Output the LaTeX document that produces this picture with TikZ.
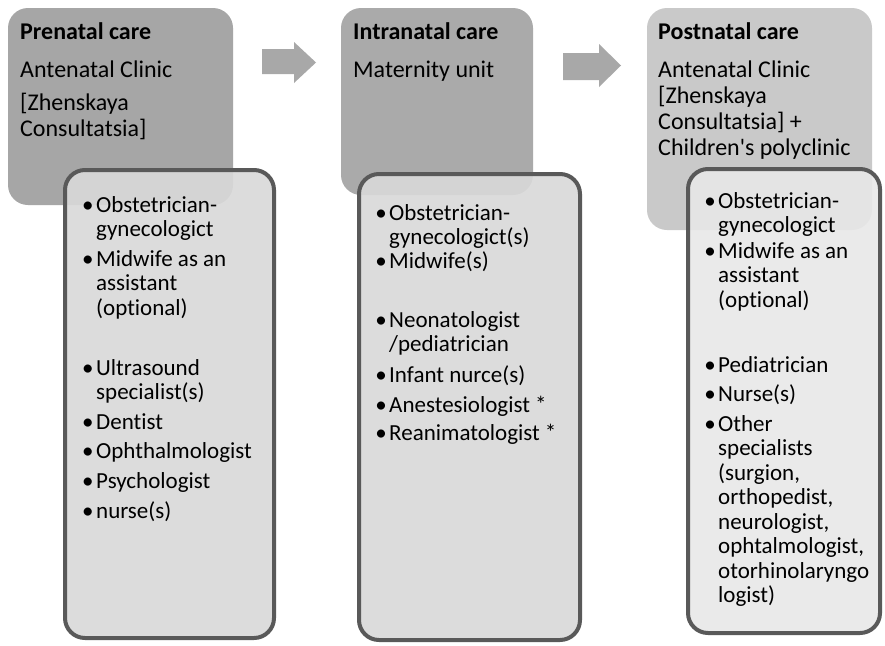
\documentclass[tikz,border=0pt]{standalone}
\usepackage{fontspec}
\setmainfont{Carlito}[Ligatures={TeXOff,CommonOff,ContextualOff}]
% left-aligned stack of lines whose baseline is the first line
\newcommand\linestack[1]{\begin{tabular}[t]{@{}l@{}}#1\end{tabular}}
\newcommand\bul{\llap{•\hspace{2.5pt}}}
\definecolor{stageA}{RGB}{166,166,166}
\definecolor{stageB}{RGB}{170,170,170}
\definecolor{stageC}{RGB}{201,201,201}
\definecolor{staffAB}{RGB}{217,217,217}
\definecolor{staffC}{RGB}{232,232,232}
\definecolor{boxline}{RGB}{89,89,89}
\definecolor{flowgray}{RGB}{168,168,168}
\begin{document}
\begin{tikzpicture}[x=1pt,y=-1pt,
  stage/.style={rounded corners=20pt, inner sep=0pt, outer sep=0pt},
  staff/.style={draw=boxline, line width=4pt, rounded corners=20pt,
    fill opacity=0.9, inner sep=0pt, outer sep=0pt},
  head/.style={anchor=base west, inner sep=0pt, font=\fontsize{24}{26}\selectfont},
  item/.style={anchor=base west, inner sep=0pt, font=\fontsize{23}{24.5}\selectfont},
  flow/.style={fill=flowgray, draw=none}]
\useasboundingbox[fill=white] (0,0) rectangle (885,645);

% stage boxes
\node[stage, fill=stageA, minimum width=225pt, minimum height=197pt] (stA) at (120.5,106.5) {};
\node[stage, fill=stageB, minimum width=192pt, minimum height=187pt] (stB) at (437,101.5) {};
\node[stage, fill=stageC, minimum width=225pt, minimum height=222pt] (stC) at (759.5,119) {};

% block arrows between stages
\fill[flow] (262,49) -- (294,49) -- (294,42) -- (316,62.5) -- (294,83) -- (294,74) -- (262,74) -- cycle;
\fill[flow] (563,53) -- (599,53) -- (599,44) -- (621,65.5) -- (599,87) -- (599,80) -- (563,80) -- cycle;

% staff boxes
\node[staff, fill=staffAB, minimum width=209pt, minimum height=468pt] (sfA) at (169.5,404) {};
\node[staff, fill=staffAB, minimum width=221pt, minimum height=466pt] (sfB) at (469.5,407) {};
\node[staff, fill=staffC, minimum width=192pt, minimum height=464pt] (sfC) at (784,401) {};

% stage texts
\node[head] (tA1) at (20,39) {\textbf{Prenatal care}};
\node[head] (tA2) at (20,77) {Antenatal Clinic};
\node[head] (tA3) at (20,110) {\linestack{{[}Zhenskaya\\Consultatsia]}};

\node[head] (tB1) at (353,39) {\textbf{Intranatal care}};
\node[head] (tB2) at (353,77) {Maternity unit};

\node[head] (tC1) at (658,39) {\textbf{Postnatal care}};
\node[head] (tC2) at (658,77) {\linestack{Antenatal Clinic\\{[}Zhenskaya\\Consultatsia] +\\Children's polyclinic}};

% prenatal staff
\node[item] (a1) at (96,212) {\linestack{\bul Obstetrician-\\gynecologict}};
\node[item] (a2) at (96,266) {\linestack{\bul Midwife as an\\assistant\\(optional)}};
\node[item] (a3) at (96,375) {\linestack{\bul Ultrasound\\specialist(s)}};
\node[item] (a4) at (96,429) {\bul Dentist};
\node[item] (a5) at (96,458) {\bul Ophthalmologist};
\node[item] (a6) at (96,488) {\bul Psychologist};
\node[item] (a7) at (96,518) {\bul nurse(s)};

% intranatal staff
\node[item] (b1) at (389,220) {\linestack{\bul Obstetrician-\\gynecologict(s)}};
\node[item] (b2) at (389,268) {\bul Midwife(s)};
\node[item] (b3) at (389,327) {\linestack{\bul Neonatologist\\/pediatrician}};
\node[item] (b4) at (389,382) {\bul Infant nurce(s)};
\node[item] (b5) at (389,412) {\bul Anestesiologist *};
\node[item] (b6) at (389,440) {\bul Reanimatologist *};

% postnatal staff
\node[item] (c1) at (718,208) {\linestack{\bul Obstetrician-\\gynecologict}};
\node[item] (c2) at (718,258) {\linestack{\bul Midwife as an\\assistant\\(optional)}};
\node[item] (c3) at (718,372) {\bul Pediatrician};
\node[item] (c4) at (718,401) {\bul Nurse(s)};
\node[item] (c5) at (718,431) {\linestack{\bul Other\\specialists\\(surgion,\\orthopedist,\\neurologist,\\ophtalmologist,\\otorhinolaryngo\\logist)}};
\end{tikzpicture}
\end{document}
